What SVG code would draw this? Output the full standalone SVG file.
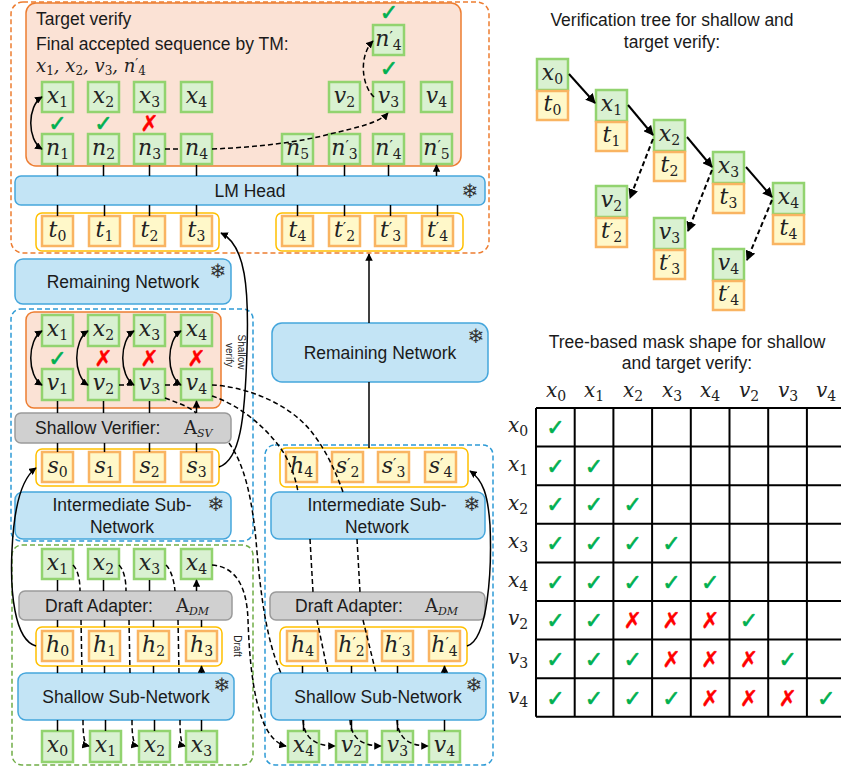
<svg xmlns="http://www.w3.org/2000/svg" width="841" height="769" viewBox="0 0 841 769">
<style>
.g{fill:#d9f1d1;stroke:#92d36f;stroke-width:2.5}
.t{fill:#fff8c9;stroke:#f9b462;stroke-width:2.5}
.ct{fill:#fff;stroke:#ffc000;stroke-width:1.5}
.b{fill:#c3e4f5;stroke:#45a6dc;stroke-width:1.5}
.gr{fill:#d0d0d0;stroke:#9a9a9a;stroke-width:1.5}
.sal{fill:#fbe2d5;stroke:#ed7d31;stroke-width:1.5}
.od{fill:none;stroke:#ed7d31;stroke-width:1.5;stroke-dasharray:5 3}
.bd{fill:none;stroke:#2e9bd6;stroke-width:1.5;stroke-dasharray:5 3}
.gd{fill:none;stroke:#70ad47;stroke-width:1.5;stroke-dasharray:5 3}
.m{font-family:"DejaVu Serif",serif;font-style:italic;font-size:22px;fill:#222;text-anchor:middle}
.s{font-style:normal;font-size:14px}
.p{font-style:normal;font-size:15px}
.l{font-family:"Liberation Sans",Arial,sans-serif;font-size:17.5px;fill:#1a1a1a}
.c{text-anchor:middle}
.sm{font-family:"Liberation Sans",Arial,sans-serif;font-size:10px;fill:#222;text-anchor:middle}
.ln{fill:none;stroke:#000;stroke-width:1.5}
.da{fill:none;stroke:#000;stroke-width:1.5;stroke-dasharray:5 3}
.ok{font-family:"DejaVu Sans",sans-serif;font-size:22px;fill:#00b050;stroke:#00b050;stroke-width:0.6;text-anchor:middle}
.no{font-family:"DejaVu Sans",sans-serif;font-size:22px;fill:#ff0000;stroke:#ff0000;stroke-width:0.4;text-anchor:middle}
.sf{font-family:"DejaVu Sans",sans-serif;font-size:20px;fill:#333;text-anchor:middle}
.grid{fill:none;stroke:#000;stroke-width:2}
</style>
<defs>
<marker id="ah" viewBox="0 0 10 10" refX="9" refY="5" markerWidth="5" markerHeight="5" orient="auto-start-reverse"><path d="M0,0 L10,5 L0,10 z" fill="#000"/></marker>
</defs>

<g id="frames">
<rect class="od" x="11" y="2" width="478" height="251" rx="12"/>
<rect class="sal" x="26" y="3" width="435" height="163" rx="10"/>
<rect class="bd" x="11" y="309" width="242" height="232" rx="10"/>
<rect class="sal" x="26" y="312" width="195" height="96" rx="8"/>
<rect class="gd" x="12" y="545" width="241" height="220" rx="10"/>
<rect class="bd" x="265" y="445" width="228" height="320" rx="10"/>
</g>

<g id="target-verify-text">
<text class="l" x="36" y="25">Target verify</text>
<text class="l" x="36" y="50">Final accepted sequence by TM:</text>
<text class="m" style="font-size:18px;text-anchor:start" x="36" y="72">x<tspan style="font-style:normal;font-size:12px" dy="3">1</tspan><tspan dy="-3">, x</tspan><tspan style="font-style:normal;font-size:12px" dy="3">2</tspan><tspan dy="-3">, v</tspan><tspan style="font-style:normal;font-size:12px" dy="3">3</tspan><tspan dy="-3">, n</tspan><tspan style="font-style:normal;font-size:13px" dy="-4">′</tspan><tspan style="font-style:normal;font-size:12px" dy="7">4</tspan></text>
</g>

<g id="tv-x1"><rect class="g" x="42" y="82" width="31" height="30"/><text class="m" x="57.5" y="103">x<tspan class="s" dy="4">1</tspan></text></g>
<g id="tv-x2"><rect class="g" x="88" y="82" width="31" height="30"/><text class="m" x="103.5" y="103">x<tspan class="s" dy="4">2</tspan></text></g>
<g id="tv-x3"><rect class="g" x="134" y="82" width="31" height="30"/><text class="m" x="149.5" y="103">x<tspan class="s" dy="4">3</tspan></text></g>
<g id="tv-x4"><rect class="g" x="181" y="82" width="31" height="30"/><text class="m" x="196.5" y="103">x<tspan class="s" dy="4">4</tspan></text></g>
<g id="tv-v2"><rect class="g" x="329" y="82" width="31" height="30"/><text class="m" x="344.5" y="103">v<tspan class="s" dy="4">2</tspan></text></g>
<g id="tv-v3"><rect class="g" x="373" y="82" width="31" height="30"/><text class="m" x="388.5" y="103">v<tspan class="s" dy="4">3</tspan></text></g>
<g id="tv-v4"><rect class="g" x="421" y="82" width="31" height="30"/><text class="m" x="436.5" y="103">v<tspan class="s" dy="4">4</tspan></text></g>
<g id="tv-np4"><rect class="g" x="373" y="25" width="31" height="30"/><text class="m" x="388.5" y="46">n<tspan class="p" dy="-4">′</tspan><tspan class="s" dy="8">4</tspan></text></g>
<g id="tv-n1"><rect class="g" x="42" y="134" width="31" height="30"/><text class="m" x="57.5" y="155">n<tspan class="s" dy="4">1</tspan></text></g>
<g id="tv-n2"><rect class="g" x="88" y="134" width="31" height="30"/><text class="m" x="103.5" y="155">n<tspan class="s" dy="4">2</tspan></text></g>
<g id="tv-n3"><rect class="g" x="134" y="134" width="31" height="30"/><text class="m" x="149.5" y="155">n<tspan class="s" dy="4">3</tspan></text></g>
<g id="tv-n4"><rect class="g" x="181" y="134" width="31" height="30"/><text class="m" x="196.5" y="155">n<tspan class="s" dy="4">4</tspan></text></g>
<g id="tv-n5"><rect class="g" x="282" y="134" width="31" height="30"/><text class="m" x="297.5" y="155">n<tspan class="s" dy="4">5</tspan></text></g>
<g id="tv-np3"><rect class="g" x="329" y="134" width="31" height="30"/><text class="m" x="344.5" y="155">n<tspan class="p" dy="-4">′</tspan><tspan class="s" dy="8">3</tspan></text></g>
<g id="tv-np4b"><rect class="g" x="373" y="134" width="31" height="30"/><text class="m" x="388.5" y="155">n<tspan class="p" dy="-4">′</tspan><tspan class="s" dy="8">4</tspan></text></g>
<g id="tv-np5"><rect class="g" x="421" y="134" width="31" height="30"/><text class="m" x="436.5" y="155">n<tspan class="p" dy="-4">′</tspan><tspan class="s" dy="8">5</tspan></text></g>
<g id="tv-marks">
<text class="ok" x="389" y="20">✓</text>
<text class="ok" x="389" y="76">✓</text>
<text class="ok" x="57.5" y="131">✓</text>
<text class="ok" x="103.5" y="131">✓</text>
<text class="no" x="149.5" y="131">✗</text>
</g>

<g id="lm-head"><rect class="b" x="15" y="176" width="470" height="29" rx="6"/><text class="l c" x="250" y="197">LM Head</text><text class="sf" x="470" y="198">❄</text></g>

<g id="t-row-left"><rect class="ct" x="36" y="213" width="183" height="38" rx="6"/></g>
<g id="t-row-right"><rect class="ct" x="276" y="213" width="187" height="38" rx="6"/></g>
<g id="t0"><rect class="t" x="42" y="216" width="31" height="30"/><text class="m" x="57.5" y="237">t<tspan class="s" dy="4">0</tspan></text></g>
<g id="t1"><rect class="t" x="89" y="216" width="31" height="30"/><text class="m" x="104.5" y="237">t<tspan class="s" dy="4">1</tspan></text></g>
<g id="t2"><rect class="t" x="134" y="216" width="31" height="30"/><text class="m" x="149.5" y="237">t<tspan class="s" dy="4">2</tspan></text></g>
<g id="t3"><rect class="t" x="181" y="216" width="31" height="30"/><text class="m" x="196.5" y="237">t<tspan class="s" dy="4">3</tspan></text></g>
<g id="t4"><rect class="t" x="282" y="216" width="31" height="30"/><text class="m" x="297.5" y="237">t<tspan class="s" dy="4">4</tspan></text></g>
<g id="tp2"><rect class="t" x="329" y="216" width="31" height="30"/><text class="m" x="344.5" y="237">t<tspan class="p" dy="-4">′</tspan><tspan class="s" dy="8">2</tspan></text></g>
<g id="tp3"><rect class="t" x="375" y="216" width="31" height="30"/><text class="m" x="390.5" y="237">t<tspan class="p" dy="-4">′</tspan><tspan class="s" dy="8">3</tspan></text></g>
<g id="tp4"><rect class="t" x="422" y="216" width="31" height="30"/><text class="m" x="437.5" y="237">t<tspan class="p" dy="-4">′</tspan><tspan class="s" dy="8">4</tspan></text></g>

<g id="rn-left"><rect class="b" x="15" y="259" width="216" height="45" rx="8"/><text class="l c" x="123" y="288">Remaining Network</text><text class="sf" x="218" y="278">❄</text></g>

<g id="sv-x1"><rect class="g" x="42" y="315" width="31" height="31"/><text class="m" x="57.5" y="336">x<tspan class="s" dy="4">1</tspan></text></g>
<g id="sv-x2"><rect class="g" x="88" y="315" width="31" height="31"/><text class="m" x="103.5" y="336">x<tspan class="s" dy="4">2</tspan></text></g>
<g id="sv-x3"><rect class="g" x="134" y="315" width="31" height="31"/><text class="m" x="149.5" y="336">x<tspan class="s" dy="4">3</tspan></text></g>
<g id="sv-x4"><rect class="g" x="181" y="315" width="31" height="31"/><text class="m" x="196.5" y="336">x<tspan class="s" dy="4">4</tspan></text></g>
<g id="sv-v1"><rect class="g" x="42" y="369" width="31" height="31"/><text class="m" x="57.5" y="390">v<tspan class="s" dy="4">1</tspan></text></g>
<g id="sv-v2"><rect class="g" x="88" y="369" width="31" height="31"/><text class="m" x="103.5" y="390">v<tspan class="s" dy="4">2</tspan></text></g>
<g id="sv-v3"><rect class="g" x="134" y="369" width="31" height="31"/><text class="m" x="149.5" y="390">v<tspan class="s" dy="4">3</tspan></text></g>
<g id="sv-v4"><rect class="g" x="181" y="369" width="31" height="31"/><text class="m" x="196.5" y="390">v<tspan class="s" dy="4">4</tspan></text></g>
<g id="sv-marks">
<text class="ok" x="57.5" y="366">✓</text>
<text class="no" x="103.5" y="366">✗</text>
<text class="no" x="149.5" y="366">✗</text>
<text class="no" x="196.5" y="366">✗</text>
<text class="sm" transform="translate(238,352) rotate(90)">Shallow</text>
<text class="sm" transform="translate(226,355) rotate(90)">verify</text>
</g>

<g id="shallow-verifier"><rect class="gr" x="15" y="413" width="216" height="30" rx="6"/><text class="l" x="35" y="434">Shallow Verifier:</text><text class="m" style="font-style:normal;font-size:18px;text-anchor:start" x="184" y="434">A<tspan style="font-style:italic;font-size:11px" dy="3">SV</tspan></text></g>

<g id="s-row-left"><rect class="ct" x="36" y="449" width="183" height="37" rx="6"/></g>
<g id="s0"><rect class="t" x="42" y="452" width="31" height="30"/><text class="m" x="57.5" y="473">s<tspan class="s" dy="4">0</tspan></text></g>
<g id="s1"><rect class="t" x="89" y="452" width="31" height="30"/><text class="m" x="104.5" y="473">s<tspan class="s" dy="4">1</tspan></text></g>
<g id="s2"><rect class="t" x="134" y="452" width="31" height="30"/><text class="m" x="149.5" y="473">s<tspan class="s" dy="4">2</tspan></text></g>
<g id="s3"><rect class="t" x="181" y="452" width="31" height="30"/><text class="m" x="196.5" y="473">s<tspan class="s" dy="4">3</tspan></text></g>

<g id="inter-left"><rect class="b" x="15" y="492" width="216" height="47" rx="8"/><text class="l c" x="122" y="511">Intermediate Sub-</text><text class="l c" x="122" y="533">Network</text><text class="sf" x="216" y="511">❄</text></g>

<g id="d-x1"><rect class="g" x="42" y="549" width="31" height="30"/><text class="m" x="57.5" y="570">x<tspan class="s" dy="4">1</tspan></text></g>
<g id="d-x2"><rect class="g" x="88" y="549" width="31" height="30"/><text class="m" x="103.5" y="570">x<tspan class="s" dy="4">2</tspan></text></g>
<g id="d-x3"><rect class="g" x="134" y="549" width="31" height="30"/><text class="m" x="149.5" y="570">x<tspan class="s" dy="4">3</tspan></text></g>
<g id="d-x4"><rect class="g" x="181" y="549" width="31" height="30"/><text class="m" x="196.5" y="570">x<tspan class="s" dy="4">4</tspan></text></g>

<g id="draft-left"><rect class="gr" x="19" y="591" width="213" height="29" rx="6"/><text class="l" x="45" y="612">Draft Adapter:</text><text class="m" style="font-style:normal;font-size:18px;text-anchor:start" x="176" y="612">A<tspan style="font-style:italic;font-size:11px" dy="3">DM</tspan></text></g>
<g id="draft-label"><text class="sm" transform="translate(234,646) rotate(90)">Draft</text></g>

<g id="h-row-left"><rect class="ct" x="36" y="627" width="186" height="39" rx="6"/></g>
<g id="h0"><rect class="t" x="42" y="631" width="31" height="30"/><text class="m" x="57.5" y="652">h<tspan class="s" dy="4">0</tspan></text></g>
<g id="h1"><rect class="t" x="89" y="631" width="31" height="30"/><text class="m" x="104.5" y="652">h<tspan class="s" dy="4">1</tspan></text></g>
<g id="h2"><rect class="t" x="138" y="631" width="31" height="30"/><text class="m" x="153.5" y="652">h<tspan class="s" dy="4">2</tspan></text></g>
<g id="h3"><rect class="t" x="186" y="631" width="31" height="30"/><text class="m" x="201.5" y="652">h<tspan class="s" dy="4">3</tspan></text></g>

<g id="shallow-left"><rect class="b" x="18" y="673" width="216" height="47" rx="8"/><text class="l c" x="126" y="703">Shallow Sub-Network</text><text class="sf" x="222" y="692">❄</text></g>

<g id="b-x0"><rect class="g" x="42" y="731" width="31" height="31"/><text class="m" x="57.5" y="752">x<tspan class="s" dy="4">0</tspan></text></g>
<g id="b-x1"><rect class="g" x="90" y="731" width="31" height="31"/><text class="m" x="105.5" y="752">x<tspan class="s" dy="4">1</tspan></text></g>
<g id="b-x2"><rect class="g" x="139" y="731" width="31" height="31"/><text class="m" x="154.5" y="752">x<tspan class="s" dy="4">2</tspan></text></g>
<g id="b-x3"><rect class="g" x="186" y="731" width="31" height="31"/><text class="m" x="201.5" y="752">x<tspan class="s" dy="4">3</tspan></text></g>

<g id="rn-right"><rect class="b" x="272" y="323" width="216" height="59" rx="10"/><text class="l c" x="380" y="359">Remaining Network</text><text class="sf" x="476" y="343">❄</text></g>

<g id="sp-row"><rect class="ct" x="280" y="448" width="188" height="39" rx="6"/></g>
<g id="sp-h4"><rect class="t" x="286" y="452" width="31" height="30"/><text class="m" x="301.5" y="473">h<tspan class="s" dy="4">4</tspan></text></g>
<g id="sp2"><rect class="t" x="332" y="452" width="31" height="30"/><text class="m" x="347.5" y="473">s<tspan class="p" dy="-4">′</tspan><tspan class="s" dy="8">2</tspan></text></g>
<g id="sp3"><rect class="t" x="378" y="452" width="31" height="30"/><text class="m" x="393.5" y="473">s<tspan class="p" dy="-4">′</tspan><tspan class="s" dy="8">3</tspan></text></g>
<g id="sp4"><rect class="t" x="425" y="452" width="31" height="30"/><text class="m" x="440.5" y="473">s<tspan class="p" dy="-4">′</tspan><tspan class="s" dy="8">4</tspan></text></g>

<g id="inter-right"><rect class="b" x="271" y="492" width="214" height="47" rx="8"/><text class="l c" x="377" y="511">Intermediate Sub-</text><text class="l c" x="377" y="533">Network</text><text class="sf" x="472" y="511">❄</text></g>

<g id="draft-right"><rect class="gr" x="270" y="592" width="215" height="28" rx="6"/><text class="l" x="295" y="612">Draft Adapter:</text><text class="m" style="font-style:normal;font-size:18px;text-anchor:start" x="425" y="612">A<tspan style="font-style:italic;font-size:11px" dy="3">DM</tspan></text></g>

<g id="hp-row"><rect class="ct" x="280" y="627" width="187" height="39" rx="6"/></g>
<g id="hp-h4"><rect class="t" x="287" y="631" width="31" height="30"/><text class="m" x="302.5" y="652">h<tspan class="s" dy="4">4</tspan></text></g>
<g id="hp2"><rect class="t" x="336" y="631" width="31" height="30"/><text class="m" x="351.5" y="652">h<tspan class="p" dy="-4">′</tspan><tspan class="s" dy="8">2</tspan></text></g>
<g id="hp3"><rect class="t" x="382" y="631" width="31" height="30"/><text class="m" x="397.5" y="652">h<tspan class="p" dy="-4">′</tspan><tspan class="s" dy="8">3</tspan></text></g>
<g id="hp4"><rect class="t" x="429" y="631" width="31" height="30"/><text class="m" x="444.5" y="652">h<tspan class="p" dy="-4">′</tspan><tspan class="s" dy="8">4</tspan></text></g>

<g id="shallow-right"><rect class="b" x="271" y="673" width="215" height="47" rx="8"/><text class="l c" x="378" y="703">Shallow Sub-Network</text><text class="sf" x="474" y="692">❄</text></g>

<g id="r-x4"><rect class="g" x="288" y="731" width="31" height="31"/><text class="m" x="303.5" y="752">x<tspan class="s" dy="4">4</tspan></text></g>
<g id="r-v2"><rect class="g" x="336" y="731" width="31" height="31"/><text class="m" x="351.5" y="752">v<tspan class="s" dy="4">2</tspan></text></g>
<g id="r-v3"><rect class="g" x="382" y="731" width="31" height="31"/><text class="m" x="397.5" y="752">v<tspan class="s" dy="4">3</tspan></text></g>
<g id="r-v4"><rect class="g" x="429" y="731" width="31" height="31"/><text class="m" x="444.5" y="752">v<tspan class="s" dy="4">4</tspan></text></g>

<g id="tree-title"><text class="l c" x="672" y="26">Verification tree for shallow and</text><text class="l c" x="672" y="48">target verify:</text></g>
<g id="tr-x0"><rect class="g" x="537" y="59" width="31" height="31"/><text class="m" x="552.5" y="80">x<tspan class="s" dy="4">0</tspan></text><rect class="t" x="537" y="91" width="31" height="29"/><text class="m" x="552.5" y="111">t<tspan class="s" dy="4">0</tspan></text></g>
<g id="tr-x1"><rect class="g" x="596" y="90" width="31" height="31"/><text class="m" x="611.5" y="111">x<tspan class="s" dy="4">1</tspan></text><rect class="t" x="596" y="122" width="31" height="29"/><text class="m" x="611.5" y="142">t<tspan class="s" dy="4">1</tspan></text></g>
<g id="tr-x2"><rect class="g" x="654" y="120" width="31" height="31"/><text class="m" x="669.5" y="141">x<tspan class="s" dy="4">2</tspan></text><rect class="t" x="654" y="152" width="31" height="29"/><text class="m" x="669.5" y="172">t<tspan class="s" dy="4">2</tspan></text></g>
<g id="tr-x3"><rect class="g" x="713" y="152" width="31" height="31"/><text class="m" x="728.5" y="173">x<tspan class="s" dy="4">3</tspan></text><rect class="t" x="713" y="184" width="31" height="29"/><text class="m" x="728.5" y="204">t<tspan class="s" dy="4">3</tspan></text></g>
<g id="tr-x4"><rect class="g" x="773" y="183" width="31" height="31"/><text class="m" x="788.5" y="204">x<tspan class="s" dy="4">4</tspan></text><rect class="t" x="773" y="215" width="31" height="29"/><text class="m" x="788.5" y="235">t<tspan class="s" dy="4">4</tspan></text></g>
<g id="tr-v2"><rect class="g" x="596" y="186" width="31" height="31"/><text class="m" x="611.5" y="207">v<tspan class="s" dy="4">2</tspan></text><rect class="t" x="596" y="218" width="31" height="29"/><text class="m" x="611.5" y="238">t<tspan class="p" dy="-4">′</tspan><tspan class="s" dy="8">2</tspan></text></g>
<g id="tr-v3"><rect class="g" x="654" y="218" width="31" height="31"/><text class="m" x="669.5" y="239">v<tspan class="s" dy="4">3</tspan></text><rect class="t" x="654" y="250" width="31" height="29"/><text class="m" x="669.5" y="270">t<tspan class="p" dy="-4">′</tspan><tspan class="s" dy="8">3</tspan></text></g>
<g id="tr-v4"><rect class="g" x="713" y="249" width="31" height="31"/><text class="m" x="728.5" y="270">v<tspan class="s" dy="4">4</tspan></text><rect class="t" x="713" y="281" width="31" height="29"/><text class="m" x="728.5" y="301">t<tspan class="p" dy="-4">′</tspan><tspan class="s" dy="8">4</tspan></text></g>

<g id="mask-table">
<text class="l c" x="687" y="348">Tree-based mask shape for shallow</text>
<text class="l c" x="687" y="369">and target verify:</text>
<g class="m" style="font-size:20px">
<text x="556" y="397">x<tspan class="s" dy="4">0</tspan></text>
<text x="594" y="397">x<tspan class="s" dy="4">1</tspan></text>
<text x="633" y="397">x<tspan class="s" dy="4">2</tspan></text>
<text x="672" y="397">x<tspan class="s" dy="4">3</tspan></text>
<text x="710" y="397">x<tspan class="s" dy="4">4</tspan></text>
<text x="749" y="397">v<tspan class="s" dy="4">2</tspan></text>
<text x="788" y="397">v<tspan class="s" dy="4">3</tspan></text>
<text x="826" y="397">v<tspan class="s" dy="4">4</tspan></text>
<text x="518" y="432">x<tspan class="s" dy="4">0</tspan></text>
<text x="518" y="471">x<tspan class="s" dy="4">1</tspan></text>
<text x="518" y="510">x<tspan class="s" dy="4">2</tspan></text>
<text x="518" y="548">x<tspan class="s" dy="4">3</tspan></text>
<text x="518" y="587">x<tspan class="s" dy="4">4</tspan></text>
<text x="518" y="625">v<tspan class="s" dy="4">2</tspan></text>
<text x="518" y="664">v<tspan class="s" dy="4">3</tspan></text>
<text x="518" y="703">v<tspan class="s" dy="4">4</tspan></text>
</g>
<path class="grid" d="M536,408 H846 M536,446.6 H846 M536,485.2 H846 M536,523.8 H846 M536,562.4 H846 M536,601 H846 M536,639.6 H846 M536,678.2 H846 M536,716.8 H846 M536,408 V716.8 M574.7,408 V716.8 M613.4,408 V716.8 M652.1,408 V716.8 M690.8,408 V716.8 M729.5,408 V716.8 M768.2,408 V716.8 M806.9,408 V716.8"/>
<g class="ok">
<text x="555.4" y="435">✓</text>
<text x="555.4" y="474">✓</text><text x="594" y="474">✓</text>
<text x="555.4" y="512">✓</text><text x="594" y="512">✓</text><text x="632.8" y="512">✓</text>
<text x="555.4" y="551">✓</text><text x="594" y="551">✓</text><text x="632.8" y="551">✓</text><text x="671.5" y="551">✓</text>
<text x="555.4" y="590">✓</text><text x="594" y="590">✓</text><text x="632.8" y="590">✓</text><text x="671.5" y="590">✓</text><text x="710.2" y="590">✓</text>
<text x="555.4" y="628">✓</text><text x="594" y="628">✓</text><text x="748.9" y="628">✓</text>
<text x="555.4" y="667">✓</text><text x="594" y="667">✓</text><text x="632.8" y="667">✓</text><text x="787.6" y="667">✓</text>
<text x="555.4" y="706">✓</text><text x="594" y="706">✓</text><text x="632.8" y="706">✓</text><text x="671.5" y="706">✓</text><text x="826.3" y="706">✓</text>
</g>
<g class="no">
<text x="632.8" y="628">✗</text><text x="671.5" y="628">✗</text><text x="710.2" y="628">✗</text>
<text x="671.5" y="667">✗</text><text x="710.2" y="667">✗</text><text x="748.9" y="667">✗</text>
<text x="710.2" y="706">✗</text><text x="748.9" y="706">✗</text><text x="787.6" y="706">✗</text>
</g>
</g>

<g id="connectors">
<path class="ln" marker-end="url(#ah)" d="M57.5,176 V165 M103.5,176 V165 M149.5,176 V165 M196.5,176 V165 M297.5,176 V165 M344.5,176 V165 M388.5,176 V165 M436.5,176 V165"/>
<path class="ln" d="M57.5,205 V216 M104.5,205 V216 M149.5,205 V216 M196.5,205 V216 M297.5,205 V216 M344.5,205 V216 M390.5,205 V216 M437.5,205 V216"/>
<path class="ln" marker-start="url(#ah)" marker-end="url(#ah)" d="M42,97 C27,106 27,140 42,149"/>
<path class="da" d="M165,149 H181"/>
<path class="da" marker-end="url(#ah)" d="M212,149 C260,147 300,142 330,134 C360,127 380,122 388,113"/>
<path class="da" marker-end="url(#ah)" d="M374,97 C361,85 359,55 373,41"/>

<path class="ln" marker-end="url(#ah)" d="M369,323 V254"/>
<path class="ln" d="M369,382 V448"/>
<path class="ln" marker-end="url(#ah)" d="M219,467 C240,460 245,420 247,350 C249,290 246,245 221,233"/>

<path class="ln" marker-start="url(#ah)" marker-end="url(#ah)" d="M42,331 C27,340 27,376 42,385"/>
<path class="ln" marker-start="url(#ah)" marker-end="url(#ah)" d="M88,331 C73,340 73,376 88,385"/>
<path class="ln" marker-start="url(#ah)" marker-end="url(#ah)" d="M134,331 C119,340 119,376 134,385"/>
<path class="ln" marker-start="url(#ah)" marker-end="url(#ah)" d="M181,331 C166,340 166,376 181,385"/>

<path class="ln" marker-end="url(#ah)" d="M57.5,413 V401 M103.5,413 V401 M149.5,413 V401 M196.5,413 V401"/>
<path class="ln" d="M57.5,443 V452 M104.5,443 V452 M149.5,443 V452 M196.5,443 V452"/>

<path class="ln" marker-end="url(#ah)" d="M57.5,591 V580 M103.5,591 V580 M149.5,591 V580 M196.5,591 V580"/>
<path class="ln" d="M57.5,620 V627 M104.5,620 V627 M153.5,620 V627 M201.5,620 V627"/>
<path class="ln" marker-end="url(#ah)" d="M57.5,673 V666 M104.5,673 V666 M153.5,673 V666 M201.5,673 V666"/>
<path class="ln" d="M57.5,720 V731 M105.5,720 V731 M154.5,720 V731 M201.5,720 V731"/>
<path class="ln" marker-end="url(#ah)" d="M36,646 C14,640 10,590 12,550 C14,505 22,478 36,468"/>

<path class="ln" marker-end="url(#ah)" d="M302.5,673 V666 M351.5,673 V666 M397.5,673 V666 M444.5,673 V666"/>
<path class="ln" d="M303.5,720 V731 M351.5,720 V731 M397.5,720 V731 M444.5,720 V731"/>
<path class="ln" marker-end="url(#ah)" d="M467,646 C488,640 492,570 490,525 C488,495 483,480 470,471"/>

<path class="da" marker-end="url(#ah)" d="M73,565 C78,570 80,580 80,591 M81,620 L82,673 M83,720 C83,735 84,745 89,746"/>
<path class="da" marker-end="url(#ah)" d="M119,565 C124,570 126,580 126,591 M129,620 L130,673 M132,720 C132,735 133,745 138,746"/>
<path class="da" marker-end="url(#ah)" d="M166,565 C171,570 174,580 175,591 M178,620 L179,673 M180,720 C180,735 181,745 185,746"/>
<path class="da" marker-end="url(#ah)" d="M212,565 C238,567 247,590 248,620 C250,680 258,740 286,746"/>

<path class="da" d="M119,385 H134"/>
<path class="da" marker-end="url(#ah)" d="M165,398 C178,403 190,407 196,413 M229,443 C245,465 252,500 256,540 C260,590 266,640 281,673 M303,720 C304,738 315,746 335,746"/>
<path class="da" d="M165,385 H181"/>
<path class="da" marker-end="url(#ah)" d="M212,396 C240,405 270,430 285,455 C292,468 296,480 298,492 M310,539 L313,592 M317,620 L328,673 M350,720 C351,738 362,746 381,746"/>
<path class="da" marker-end="url(#ah)" d="M212,385 C240,386 285,400 310,430 C325,448 335,470 343,492 M357,539 L360,592 M363,620 L376,673 M397,720 C398,738 409,746 428,746"/>

<path class="ln" style="stroke-width:2" marker-end="url(#ah)" d="M569,74 L595,103"/>
<path class="ln" style="stroke-width:2" marker-end="url(#ah)" d="M628,105 L653,135"/>
<path class="ln" style="stroke-width:2" marker-end="url(#ah)" d="M687,137 L712,167"/>
<path class="ln" style="stroke-width:2" marker-end="url(#ah)" d="M746,167 L772,197"/>
<path class="da" style="stroke-width:2" marker-end="url(#ah)" d="M653,139 L630,198"/>
<path class="da" style="stroke-width:2" marker-end="url(#ah)" d="M712,170 L688,231"/>
<path class="da" style="stroke-width:2" marker-end="url(#ah)" d="M772,200 L747,260"/>
</g>
</svg>
